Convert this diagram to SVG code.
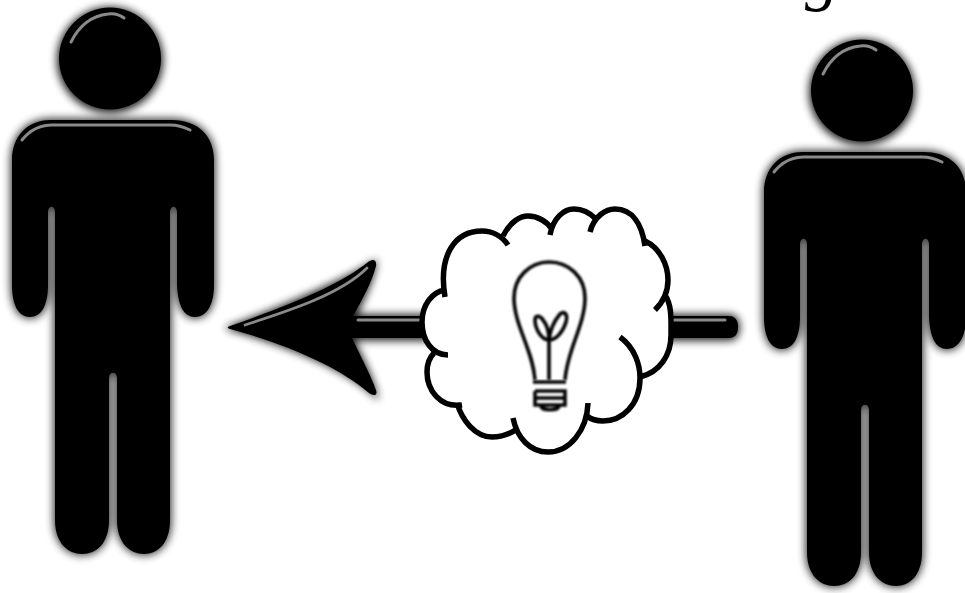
<svg xmlns="http://www.w3.org/2000/svg" xmlns:xlink="http://www.w3.org/1999/xlink" width="965" height="593" viewBox="0 0 965 593">
<style>
.cloud{fill:none;stroke:#000;stroke-width:5.5;stroke-linecap:butt}
.gloss{fill:none;stroke:#8a8a8a;stroke-linecap:round}
.bulb{fill:none;stroke:#000;stroke-width:3.6;filter:url(#soft)}
.label{font-family:"Liberation Serif",serif;font-style:italic;font-size:68px;fill:#000}
</style>
<defs>
<filter id="shadow" x="-20%" y="-20%" width="140%" height="140%"><feGaussianBlur stdDeviation="4.5"/></filter>
<filter id="soft" x="-10%" y="-10%" width="120%" height="120%"><feGaussianBlur stdDeviation="0.8"/></filter>
<filter id="gl" x="-50%" y="-50%" width="200%" height="200%"><feGaussianBlur stdDeviation="0.7"/></filter>
<path id="body" d="M50,120H172C198,120 214,136 214,160V285C214,306 206,317 195,317C184,317 178,306 177,285V212C177,205 170,205 170,212V520C170,543 158,554 144,554C130,554 117,543 117,520V378C117,371 109,371 109,378V520C109,543 97,554 82,554C68,554 55,543 55,520V212C55,205 48,205 48,212V285C48,306 41,317 30,317C19,317 12,306 12,285V160C12,136 28,120 50,120Z"/>
<g id="person">
<circle cx="110" cy="60" r="53" fill="#000" opacity=".9" filter="url(#shadow)"/>
<use xlink:href="#body" fill="#000" stroke="#000" stroke-width="3" opacity=".8" filter="url(#shadow)"/>
<circle cx="110" cy="58.5" r="51" fill="#000"/>
<use xlink:href="#body" fill="#000"/>
<g filter="url(#gl)">
<path class="gloss" stroke-width="3" d="M22,140C30,130 40,125 52,125H170C178,125 184,127 190,130"/>
<path class="gloss" stroke="#777" stroke-width="3" d="M71,42C78,28 90,16 108,14C114,13 120,15 124,18"/>
</g>
</g>
</defs>
<text class="label" x="805" y="-2">g</text>
<g id="person-left"><use xlink:href="#person"/></g>
<g id="person-right"><use xlink:href="#person" x="752" y="32"/></g>
<g id="connectors">
<path d="M729,316H355C362,300 372,282 375,262C350,278 290,305 229,328C290,345 350,370 376,396C372,378 360,355 352,339H729C735,339 738,335 738,327C738,320 735,316 729,316Z" fill="#000" stroke="#000" stroke-width="3" opacity=".9" filter="url(#shadow)"/>
<path d="M729,338H352C360,355 372,378 376,390C378,396 373,396 369,393C340,368 290,345 230,329C227,328 227,327 230,326C290,305 340,285 368,262C373,258 377,260 376,266C372,282 362,300 353,316H729C735,316 738,320 738,327C738,334 735,338 729,338Z" fill="#000"/>
<g filter="url(#gl)">
<path class="gloss" stroke="#b5b5b5" stroke-width="2.8" d="M245,325C285,312 340,295 367,268"/>
<path class="gloss" stroke="#999" stroke-width="3" d="M358,320H725"/>
</g>
</g>
<g id="cloud">
<path d="M445,297C438,255 455,231 482,231C492,231 500,235 503,236C510,222 520,216 528,216C538,216 547,222 551,226C556,214 566,209 574,209C582,209 590,213 596,219C600,212 606,209 615,209C635,209 642,225 645,241C660,248 668,265 668,280C668,285 667,290 665,295C672,305 671,320 671,335C671,355 660,372 640,377C640,405 622,421 603,421C598,421 592,420 588,417C580,438 565,452 548,452C535,452 525,442 517,429C510,434 500,437 492,437C475,437 462,420 457,406C440,408 427,390 427,372C427,365 429,358 434,353C426,345 422,335 422,322C422,305 432,292 445,290Z" fill="#fff"/>
<path class="cloud" d="M445,297C438,255 455,231 482,231C492,231 502,236 508,245"/>
<path class="cloud" d="M503,236C510,222 520,216 528,216C538,216 547,222 551,228"/>
<path class="cloud" d="M550,235C553,218 564,209 574,209C582,209 590,213 596,219"/>
<path class="cloud" d="M590,232C594,216 606,209 615,209C633,209 642,225 645,246"/>
<path class="cloud" d="M645,241C660,248 668,265 668,280C668,292 662,303 655,310"/>
<path class="cloud" d="M665,295C672,305 671,320 671,335C671,355 660,372 640,377"/>
<path class="cloud" d="M620,337C635,348 640,365 640,378C640,405 622,421 603,421C597,421 592,420 587,416"/>
<path class="cloud" d="M588,403C587,430 570,452 548,452C530,452 517,438 513,418"/>
<path class="cloud" d="M517,429C510,434 500,437 492,437C475,437 462,420 457,403"/>
<path class="cloud" d="M462,405C440,408 427,390 427,372C427,365 429,358 434,353"/>
<path class="cloud" d="M448,355C432,355 422,340 422,322C422,305 432,292 445,290"/>
<g id="bulb">
<path class="bulb" d="M535,380C533,350 514,325 514,298C514,277 530,262 549,262C569,262 585,277 585,298C585,325 567,350 565,380"/>
<path class="bulb" d="M549,380V340C541,340 535,328 535,320C535,315 540,315 543,320C548,326 549,333 549,340C550,330 555,320 560,314C565,310 568,315 566,322C563,332 556,340 549,340"/>
<path class="bulb" d="M533,382H566M535,391H565V405H535V391M535,398H565M541,406C541,411 559,411 559,406"/>
</g>
</g>
</svg>
